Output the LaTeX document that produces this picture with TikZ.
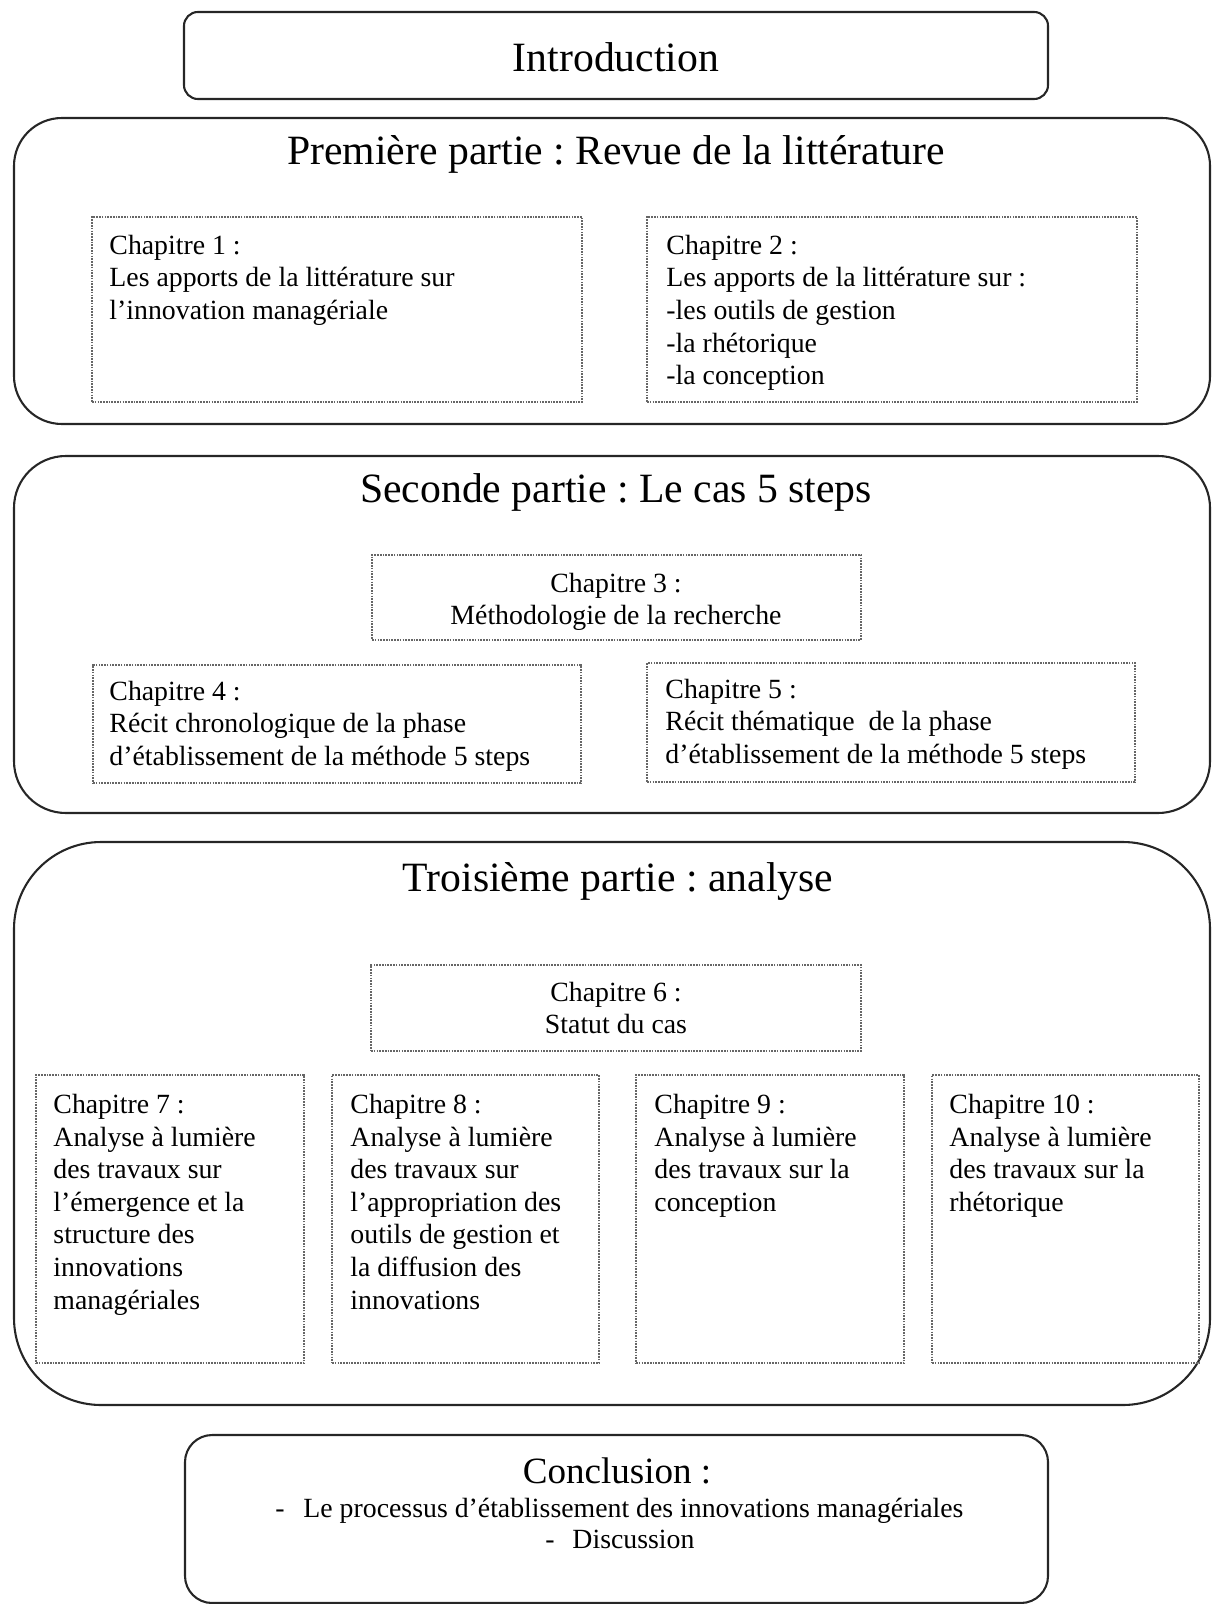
\documentclass[tikz,border=0pt]{standalone}
\usepackage{fontspec}
\setmainfont{Liberation Serif}
\usetikzlibrary{fit}
\begin{document}
\frenchspacing
\begin{tikzpicture}[x=0.4317pt,y=-0.4317pt,
  bigbox/.style={draw=black!85, line width=0.9pt, rounded corners=#1, inner sep=0pt},
  dotbox/.style={draw=black!60, line width=0.7pt, dash pattern=on 0.7pt off 0.5pt, inner sep=0pt},
  txt/.style={anchor=north west, inner sep=0pt, align=left, font=\fontsize{12}{14.1}\selectfont},
  ctxt/.style={anchor=north, inner sep=0pt, align=center, font=\fontsize{12}{14.1}\selectfont},
  ttl/.style={anchor=base, inner sep=0pt, font=\fontsize{18}{21.6}\selectfont},
  lin/.style={anchor=base west, inner sep=0pt, font=\fontsize{12}{14.1}\selectfont}]
\useasboundingbox (0,0) rectangle (1211,1604);
% big boxes
\node[bigbox=6pt, fit={(184,12)(1048,99)}] (intro) {};
\node[bigbox=20.7pt, fit={(14,118)(1210,424)}] (p1) {};
\node[bigbox=22.4pt, fit={(14,456)(1210,813)}] (p2) {};
\node[bigbox=37.6pt, fit={(14,842)(1210,1405)}] (p3) {};
\node[bigbox=11.7pt, fit={(185,1435)(1048,1603)}] (concl) {};
% dotted boxes
\node[dotbox, fit={(92,217)(582,402)}] (c1) {};
\node[dotbox, fit={(647,217)(1137,402)}] (c2) {};
\node[dotbox, fit={(372,555)(861,640)}] (c3) {};
\node[dotbox, fit={(93,665)(581,783)}] (c4) {};
\node[dotbox, fit={(647,663)(1135,782)}] (c5) {};
\node[dotbox, fit={(371,965)(861,1051)}] (c6) {};
\node[dotbox, fit={(36,1075)(304,1363)}] (c7) {};
\node[dotbox, fit={(332,1075)(599,1363)}] (c8) {};
\node[dotbox, fit={(636,1075)(904,1363)}] (c9) {};
\node[dotbox, fit={(932,1075)(1199,1363)}] (c10) {};
% titles
\node[ttl] (tintro) at (616,72) {Introduction};
\node[ttl] (tp1) at (616,165) {Première partie : Revue de la littérature};
\node[ttl] (tp2) at (616,502) {Seconde partie : Le cas 5 steps};
\node[ttl] (tp3) at (618,891) {Troisième partie : analyse};
% chapter texts
\node[txt] (t1) at (109,231) {\strut Chapitre 1 :\\Les apports de la littérature sur\\l’innovation managériale};
\node[txt] (t2) at (666,231) {\strut Chapitre 2 :\\Les apports de la littérature sur :\\-les outils de gestion\\-la rhétorique\\-la conception};
\node[ctxt] (t3) at (616,569) {\strut Chapitre 3 :\\Méthodologie de la recherche};
\node[txt] (t4) at (109,677) {\strut Chapitre 4 :\\Récit chronologique de la phase\\d’établissement de la méthode 5 steps};
\node[txt] (t5) at (665,675) {\strut Chapitre 5 :\\Récit thématique\ \ de la phase\\d’établissement de la méthode 5 steps};
\node[ctxt] (t6) at (616,978) {\strut Chapitre 6 :\\Statut du cas};
\node[txt] (t7) at (53,1090) {\strut Chapitre 7 :\\Analyse à lumière\\des travaux sur\\l’émergence et la\\structure des\\innovations\\managériales};
\node[txt] (t8) at (350,1090) {\strut Chapitre 8 :\\Analyse à lumière\\des travaux sur\\l’appropriation des\\outils de gestion et\\la diffusion des\\innovations};
\node[txt] (t9) at (654,1090) {\strut Chapitre 9 :\\Analyse à lumière\\des travaux sur la\\conception};
\node[txt] (t10) at (949,1090) {\strut Chapitre 10 :\\Analyse à lumière\\des travaux sur la\\rhétorique};
% conclusion
\node[anchor=base, inner sep=0pt, font=\fontsize{16}{19.2}\selectfont] (tconcl) at (617,1483) {Conclusion :};
\node[lin] (d1) at (275,1517) {-};
\node[lin] (l1) at (303,1517) {Le processus d’établissement des innovations managériales};
\node[lin] (d2) at (545,1548) {-};
\node[lin] (l2) at (572,1548) {Discussion};
\end{tikzpicture}
\end{document}
